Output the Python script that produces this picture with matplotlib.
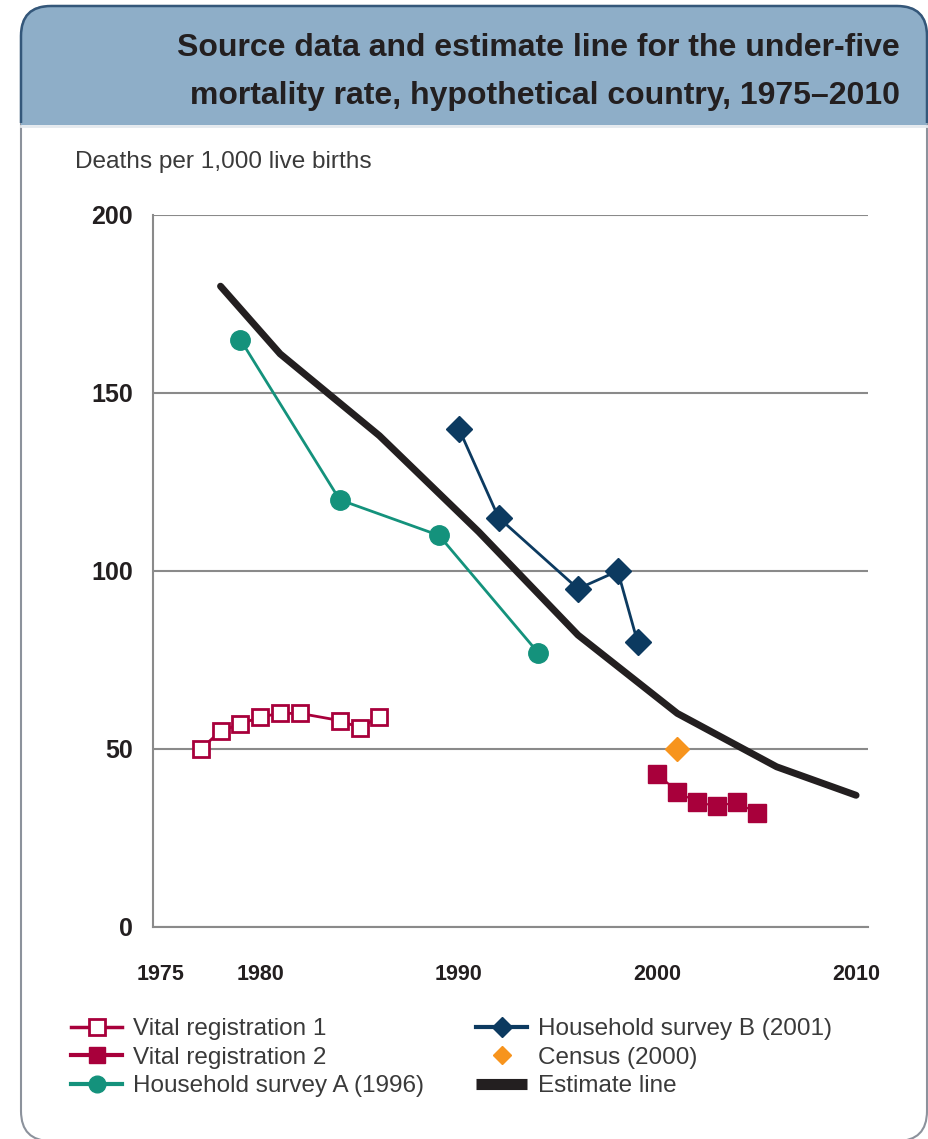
import numpy as np
import matplotlib.pyplot as plt
from matplotlib.patches import FancyBboxPatch, Rectangle
from matplotlib.lines import Line2D

# Data (deaths per 1,000 live births)
vr1_years = [1977, 1978, 1979, 1980, 1981, 1982, 1984, 1985, 1986]
vr1_vals = [50, 55, 57, 59, 60, 60, 58, 56, 59]

vr2_years = [2000, 2001, 2002, 2003, 2004, 2005]
vr2_vals = [43, 38, 35, 34, 35, 32]

hsa_years = [1979, 1984, 1989, 1994]
hsa_vals = [165, 120, 110, 77]

hsb_years = [1990, 1992, 1996, 1998, 1999]
hsb_vals = [140, 115, 95, 100, 80]

census_years = [2001]
census_vals = [50]

est_years = [1978, 1981, 1986, 1991, 1996, 2001, 2006, 2010]
est_vals = [180, 161, 138, 111, 82, 60, 45, 37]

x_ticks = [1975, 1980, 1990, 2000, 2010]
y_ticks = [0, 50, 100, 150, 200]

# colours
c_vr = '#A8003B'
c_teal = '#14927C'
c_navy = '#0C3A60'
c_orange = '#F7941D'
c_black = '#231F20'

FONT = ['Liberation Sans', 'DejaVu Sans']

W, H = 929, 1139
fig = plt.figure(figsize=(W / 100, H / 100), dpi=100)

# background frame and header band, drawn in pixel units
bg = fig.add_axes([0, 0, 1, 1])
bg.set_xlim(0, W)
bg.set_ylim(H, 0)
bg.axis('off')
frame = FancyBboxPatch((21, 6), 906, 1135, boxstyle='round,pad=0,rounding_size=30',
                       facecolor='white', edgecolor='#8C929C', lw=1.5)
bg.add_patch(frame)
header = Rectangle((0, 0), W, 125, facecolor='#8EAEC8', edgecolor='none')
bg.add_patch(header)
header.set_clip_path(frame)
bg.plot([21, 927], [125.5, 125.5], color='#E4E9EE', lw=2)
top_edge = FancyBboxPatch((21, 6), 906, 1135, boxstyle='round,pad=0,rounding_size=30',
                          facecolor='none', edgecolor='#34577A', lw=1.8)
bg.add_patch(top_edge)
top_edge.set_clip_path(Rectangle((0, 0), W, 123, transform=bg.transData))

bg.text(900, 48, 'Source data and estimate line for the under-five',
        ha='right', va='center', fontsize=23, fontweight='bold',
        family=FONT, color='#231F20')
bg.text(900, 96, 'mortality rate, hypothetical country, 1975\u20132010',
        ha='right', va='center', fontsize=23, fontweight='bold',
        family=FONT, color='#231F20')
bg.text(75, 162, 'Deaths per 1,000 live births', ha='left', va='center',
        fontsize=17.6, family=FONT, color='#3A3A3A')

# main chart
ax = fig.add_axes([153 / W, 1 - 927 / H, (868 - 153) / W, (927 - 215) / H])
ax.set_facecolor('none')

ax.plot(est_years, est_vals, color=c_black, lw=5, solid_capstyle='round', zorder=3)
ax.plot(hsa_years, hsa_vals, color=c_teal, lw=2, marker='o', ms=14, zorder=4)
ax.plot(hsb_years, hsb_vals, color=c_navy, lw=2, marker='D', ms=13, zorder=4)
ax.plot(vr1_years, vr1_vals, color=c_vr, lw=2, marker='s', ms=12,
        mfc='white', mec=c_vr, mew=2, zorder=4)
ax.plot(vr2_years, vr2_vals, color=c_vr, lw=1.5, marker='s', ms=13, zorder=4)
ax.plot(census_years, census_vals, ls='none', color=c_orange, marker='D', ms=12, zorder=4)

ax.set_xlim(1974.6, 2010.6)
ax.set_ylim(0, 200)
ax.set_xticks(x_ticks)
ax.set_yticks(y_ticks)
ax.grid(axis='y', color='#8A8A8A', lw=1.5)
ax.set_axisbelow(True)
for s in ['top', 'right']:
    ax.spines[s].set_visible(False)
for s in ['left', 'bottom']:
    ax.spines[s].set_color('#8A8A8A')
    ax.spines[s].set_linewidth(1.5)
ax.tick_params(length=0)
ax.tick_params(axis='y', pad=14.5)
ax.tick_params(axis='x', pad=27)
for lab in ax.get_yticklabels():
    lab.set_fontsize(18)
    lab.set_fontweight('bold')
    lab.set_family(FONT)
    lab.set_color('#231F20')
for lab in ax.get_xticklabels():
    lab.set_fontsize(15.5)
    lab.set_fontweight('bold')
    lab.set_family(FONT)
    lab.set_color('#231F20')

# legend in two columns
h1 = [
    Line2D([], [], color=c_vr, lw=2.5, marker='s', ms=11, mfc='white', mec=c_vr, mew=2),
    Line2D([], [], color=c_vr, lw=3, marker='s', ms=12),
    Line2D([], [], color=c_teal, lw=3, marker='o', ms=12),
]
l1 = ['Vital registration 1', 'Vital registration 2', 'Household survey A (1996)']
h2 = [
    Line2D([], [], color=c_navy, lw=3, marker='D', ms=10),
    Line2D([], [], ls='none', color=c_orange, marker='D', ms=9),
    Line2D([], [], color=c_black, lw=8, solid_capstyle='butt'),
]
l2 = ['Household survey B (2001)', 'Census (2000)', 'Estimate line']

leg_kw = dict(frameon=False, handlelength=2.1, handletextpad=0.47, labelspacing=0.27,
              borderaxespad=0, borderpad=0,
              prop={'family': FONT, 'size': 17.5})
lg1 = fig.legend(h1, l1, loc='upper left', bbox_to_anchor=(71 / W, 1 - 1018 / H), **leg_kw)
lg2 = fig.legend(h2, l2, loc='upper left', bbox_to_anchor=(476 / W, 1 - 1018 / H), **leg_kw)
for lg in (lg1, lg2):
    for t in lg.get_texts():
        t.set_color('#3A3A3A')

fig.savefig('out.png', dpi=100)
